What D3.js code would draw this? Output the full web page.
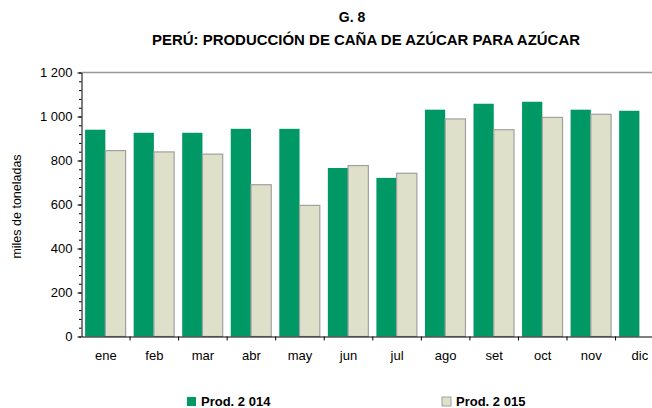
<!DOCTYPE html>
<html>
<head>
<meta charset="utf-8">
<script src="https://cdn.jsdelivr.net/npm/d3@7"></script>
<style>
  body { margin: 0; background: #fff; }
  svg { display: block; font-family: "Liberation Sans", Arial, sans-serif; }
</style>
</head>
<body>
<svg id="chart" width="652" height="408"></svg>
<script>
// months and production (thousand tonnes)
const months = ["ene", "feb", "mar", "abr", "may", "jun", "jul", "ago", "set", "oct", "nov", "dic"];
const prod2014 = [940, 926, 926, 944, 944, 766, 721, 1031, 1058, 1067, 1031, 1026];
const prod2015 = [845, 839, 829, 690, 596, 777, 742, 989, 940, 996, 1010, null];
const seriesNames = ["Prod. 2 014", "Prod. 2 015"];
const yTicks = [0, 200, 400, 600, 800, 1000, 1200];

var svg = d3.select("#chart"),
    plotLeft = 81.5,
    plotTop = 72.5,
    plotBottom = 336.5,
    plotRight = plotLeft + 12 * 48.55;

var fill = ["#009966", "#dfe0c9"];

var fmt = d3.formatLocale({ decimal: ",", thousands: " ", grouping: [3], currency: ["", ""] }).format(",d");

var x = d3.scaleBand().domain(months).range([plotLeft, plotRight]).padding(0);
var xs = d3.scaleBand().domain([0, 1]).range([3.6, 3.6 + 40.5]).padding(0);
var y = d3.scaleLinear().domain([0, 1200]).range([plotBottom, plotTop]);

// title
svg.append("text")
    .attr("x", 352).attr("y", 22)
    .attr("text-anchor", "middle")
    .style("font-size", "14px").style("font-weight", "bold")
    .text("G. 8");
svg.append("text")
    .attr("x", 366).attr("y", 45)
    .attr("text-anchor", "middle")
    .attr("textLength", 428).attr("lengthAdjust", "spacingAndGlyphs")
    .style("font-size", "14.5px").style("font-weight", "bold")
    .text("PERÚ: PRODUCCIÓN  DE CAÑA DE AZÚCAR PARA AZÚCAR");

// top border of plot
svg.append("line")
    .attr("x1", plotLeft).attr("x2", 652)
    .attr("y1", y(1200)).attr("y2", y(1200))
    .attr("stroke", "#999").attr("stroke-width", 1.5);

// bars
var rows = months.map(function(m, i) { return { m: m, v: [prod2014[i], prod2015[i]] }; });

var grp = svg.append("g").selectAll("g")
    .data(rows)
  .enter().append("g")
    .attr("transform", function(d) { return "translate(" + x(d.m) + ",0)"; });

grp.selectAll("rect")
    .data(function(d) { return d.v.map(function(v, k) { return { k: k, v: v }; }).filter(function(e) { return e.v != null; }); })
  .enter().append("rect")
    .attr("x", function(d) { return xs(d.k); })
    .attr("width", xs.bandwidth())
    .attr("y", function(d) { return y(d.v); })
    .attr("height", function(d) { return y(0) - y(d.v); })
    .attr("fill", function(d) { return fill[d.k]; })
    .attr("stroke", function(d) { return d.k == 1 ? "#a0a0a0" : "none"; })
    .attr("stroke-width", 1.2);

// y axis with minor ticks
svg.append("g")
    .attr("transform", "translate(" + plotLeft + ",0)")
    .call(d3.axisLeft(y).tickValues(d3.range(0, 1201, 40)).tickSize(2.5).tickFormat(""))
    .call(function(g) { g.select(".domain").remove(); });

var yAxis = svg.append("g")
    .attr("transform", "translate(" + plotLeft + ",0)")
    .call(d3.axisLeft(y).tickValues(yTicks).tickSize(4).tickPadding(5).tickFormat(fmt).tickSizeOuter(0));
yAxis.selectAll("text").style("font-size", "13px").attr("fill", "#000");

// x axis
var xAxis = svg.append("g")
    .attr("transform", "translate(0," + plotBottom + ")")
    .call(d3.axisBottom(x).tickSize(0).tickPadding(14).tickSizeOuter(0));
xAxis.selectAll("text").style("font-size", "13px").attr("fill", "#000");

svg.append("g").selectAll("line")
    .data(months.slice(1))
  .enter().append("line")
    .attr("x1", function(d) { return x(d); })
    .attr("x2", function(d) { return x(d); })
    .attr("y1", plotBottom).attr("y2", plotBottom + 4)
    .attr("stroke", "#000");

// axis title
svg.append("text")
    .attr("transform", "translate(21," + (y(600) + 2) + ") rotate(-90)")
    .attr("text-anchor", "middle")
    .style("font-size", "12.5px")
    .text("miles de toneladas");

// legend
var legX = [187, 442];
var leg = svg.append("g").selectAll("g")
    .data(seriesNames)
  .enter().append("g")
    .attr("transform", function(d, i) { return "translate(" + legX[i] + ",397)"; });

leg.append("rect")
    .attr("width", 9).attr("height", 9)
    .attr("fill", function(d, i) { return fill[i]; })
    .attr("stroke", function(d, i) { return i == 1 ? "#a0a0a0" : "none"; });

leg.append("text")
    .attr("x", 14).attr("y", 9)
    .style("font-size", "13px").style("font-weight", "bold")
    .text(function(d) { return d; });
</script>
</body>
</html>
